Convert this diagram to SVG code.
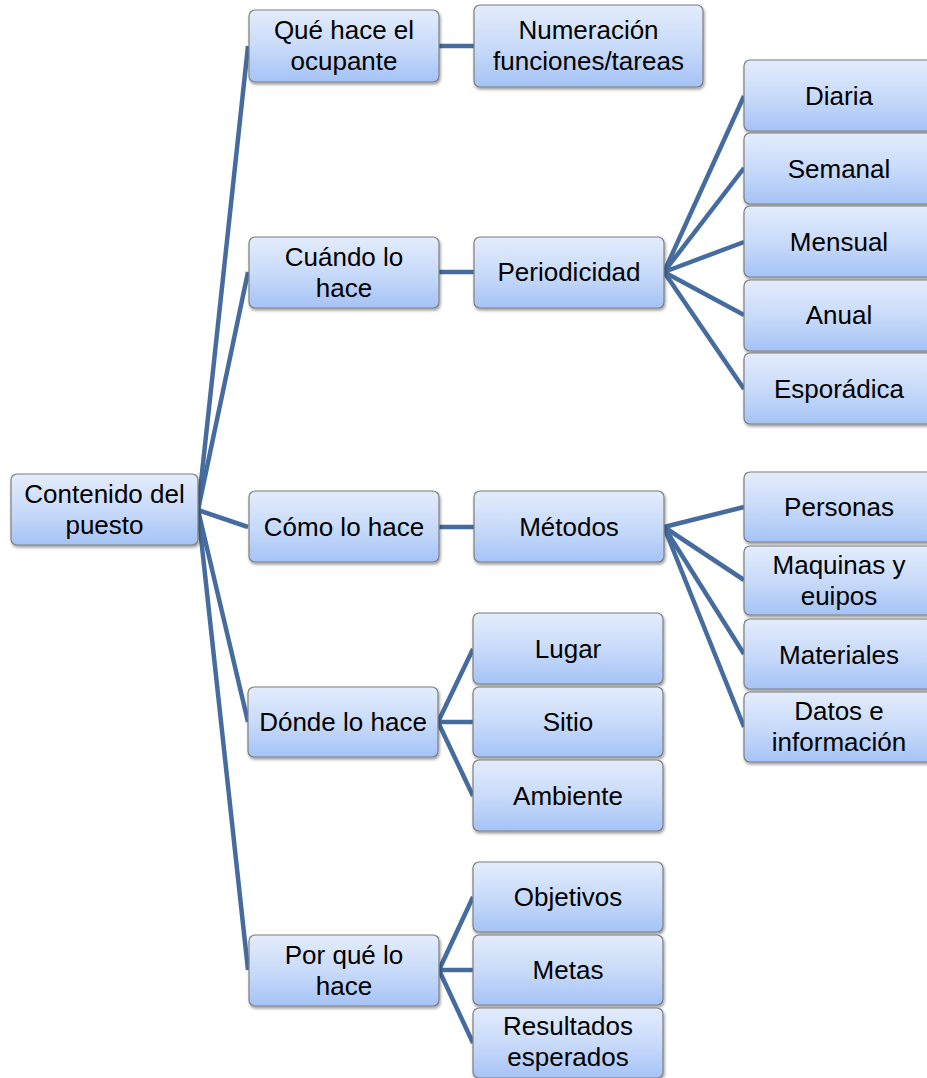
<svg xmlns="http://www.w3.org/2000/svg" width="927" height="1078" viewBox="0 0 927 1078">
<defs>
<linearGradient id="g" x1="0" y1="0" x2="0" y2="1">
<stop offset="0" stop-color="#e3ecfc"/>
<stop offset="0.5" stop-color="#c9dbfa"/>
<stop offset="1" stop-color="#a5c3f6"/>
</linearGradient>
<filter id="sh" x="-10%" y="-10%" width="125%" height="130%">
<feGaussianBlur in="SourceAlpha" stdDeviation="1.5"/>
<feOffset dx="1" dy="2" result="b"/>
<feComponentTransfer><feFuncA type="linear" slope="0.4"/></feComponentTransfer>
<feMerge><feMergeNode/><feMergeNode in="SourceGraphic"/></feMerge>
</filter>
</defs>
<style>
.n rect{fill:url(#g);stroke:#7f7f7f;stroke-width:1.2;filter:url(#sh)}
.n text{font-family:"Liberation Sans",Arial,sans-serif;font-size:26px;fill:#000;text-anchor:middle}
.c line{stroke:#466c9f;stroke-width:4.5;stroke-linecap:butt}
</style>
<g id="connectors" class="c">
<line x1="198" y1="510" x2="248" y2="46"/>
<line x1="198" y1="510" x2="248" y2="272"/>
<line x1="198" y1="510" x2="248" y2="527"/>
<line x1="198" y1="510" x2="248" y2="722"/>
<line x1="198" y1="510" x2="248" y2="970"/>
<line x1="439" y1="46" x2="474" y2="46"/>
<line x1="439" y1="272" x2="474" y2="272"/>
<line x1="439" y1="527" x2="474" y2="527"/>
<line x1="664" y1="272" x2="744" y2="96"/>
<line x1="664" y1="272" x2="744" y2="168"/>
<line x1="664" y1="272" x2="744" y2="242"/>
<line x1="664" y1="272" x2="744" y2="315"/>
<line x1="664" y1="272" x2="744" y2="389"/>
<line x1="664" y1="527" x2="744" y2="507"/>
<line x1="664" y1="527" x2="744" y2="580"/>
<line x1="664" y1="527" x2="744" y2="654"/>
<line x1="664" y1="527" x2="744" y2="727"/>
<line x1="438" y1="722" x2="473" y2="649"/>
<line x1="438" y1="722" x2="473" y2="722"/>
<line x1="438" y1="722" x2="473" y2="796"/>
<line x1="439" y1="970" x2="473" y2="897"/>
<line x1="439" y1="970" x2="473" y2="970"/>
<line x1="439" y1="970" x2="473" y2="1043"/>
</g>
<g id="root" class="n"><rect x="11" y="474" width="187" height="71" rx="6"/><text x="104.5" y="503">Contenido del</text><text x="104.5" y="534">puesto</text></g>
<g id="que" class="n"><rect x="249" y="10" width="190" height="72" rx="6"/><text x="344" y="39">Qué hace el</text><text x="344" y="70">ocupante</text></g>
<g id="numeracion" class="n"><rect x="474" y="5" width="229" height="82" rx="6"/><text x="588.5" y="39">Numeración</text><text x="588.5" y="70">funciones/tareas</text></g>
<g id="cuando" class="n"><rect x="249" y="237" width="190" height="71" rx="6"/><text x="344" y="266">Cuándo lo</text><text x="344" y="297">hace</text></g>
<g id="periodicidad" class="n"><rect x="474" y="237" width="190" height="71" rx="6"/><text x="569" y="281">Periodicidad</text></g>
<g id="diaria" class="n"><rect x="744" y="60" width="190" height="71" rx="6"/><text x="839" y="105">Diaria</text></g>
<g id="semanal" class="n"><rect x="744" y="133" width="190" height="71" rx="6"/><text x="839" y="178">Semanal</text></g>
<g id="mensual" class="n"><rect x="744" y="206" width="190" height="71" rx="6"/><text x="839" y="251">Mensual</text></g>
<g id="anual" class="n"><rect x="744" y="280" width="190" height="71" rx="6"/><text x="839" y="324">Anual</text></g>
<g id="esporadica" class="n"><rect x="744" y="353" width="190" height="71" rx="6"/><text x="839" y="398">Esporádica</text></g>
<g id="como" class="n"><rect x="249" y="491" width="190" height="71" rx="6"/><text x="344" y="536">Cómo lo hace</text></g>
<g id="metodos" class="n"><rect x="474" y="491" width="190" height="71" rx="6"/><text x="569" y="536">Métodos</text></g>
<g id="personas" class="n"><rect x="744" y="472" width="190" height="70" rx="6"/><text x="839" y="516">Personas</text></g>
<g id="maquinas" class="n"><rect x="744" y="546" width="190" height="69" rx="6"/><text x="839" y="574">Maquinas y</text><text x="839" y="605">euipos</text></g>
<g id="materiales" class="n"><rect x="744" y="619" width="190" height="70" rx="6"/><text x="839" y="664">Materiales</text></g>
<g id="datos" class="n"><rect x="744" y="692" width="190" height="70" rx="6"/><text x="839" y="720">Datos e</text><text x="839" y="751">información</text></g>
<g id="donde" class="n"><rect x="248" y="687" width="190" height="70" rx="6"/><text x="343" y="731">Dónde lo hace</text></g>
<g id="lugar" class="n"><rect x="473" y="613" width="190" height="71" rx="6"/><text x="568" y="658">Lugar</text></g>
<g id="sitio" class="n"><rect x="473" y="687" width="190" height="70" rx="6"/><text x="568" y="731">Sitio</text></g>
<g id="ambiente" class="n"><rect x="473" y="760" width="190" height="71" rx="6"/><text x="568" y="805">Ambiente</text></g>
<g id="porque" class="n"><rect x="249" y="935" width="190" height="71" rx="6"/><text x="344" y="964">Por qué lo</text><text x="344" y="995">hace</text></g>
<g id="objetivos" class="n"><rect x="473" y="862" width="190" height="70" rx="6"/><text x="568" y="906">Objetivos</text></g>
<g id="metas" class="n"><rect x="473" y="935" width="190" height="70" rx="6"/><text x="568" y="979">Metas</text></g>
<g id="resultados" class="n"><rect x="473" y="1008" width="190" height="70" rx="6"/><text x="568" y="1035">Resultados</text><text x="568" y="1066">esperados</text></g>
</svg>
